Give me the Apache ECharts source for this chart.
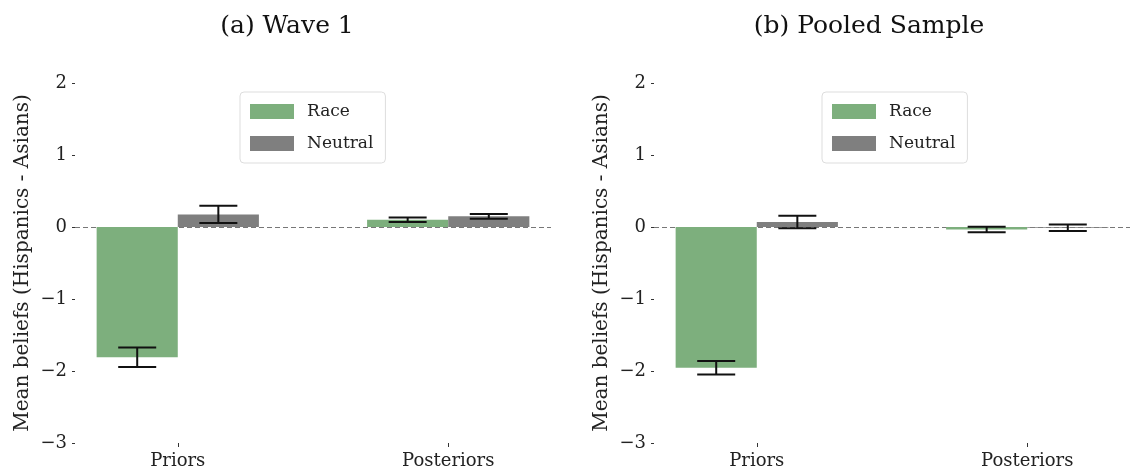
<!DOCTYPE html>
<html>
<head>
<meta charset="utf-8">
<script src="https://cdn.jsdelivr.net/npm/echarts@6/dist/echarts.min.js"></script>
<style>html,body{margin:0;padding:0;background:#fff}#c{width:1130px;height:474px}</style>
</head>
<body>
<div id="c"></div>
<script>
const categories = ['Priors', 'Posteriors'];
const panelTitles = ['(a) Wave 1', '(b) Pooled Sample'];
const seriesNames = ['Race', 'Neutral'];
const yTicks = [-3, -2, -1, 0, 1, 2];

const wave1Race = [-1.81, 0.10];
const wave1RaceErr = [0.135, 0.031];
const wave1Neutral = [0.175, 0.148];
const wave1NeutralErr = [0.12, 0.033];

const pooledRace = [-1.955, -0.035];
const pooledRaceErr = [0.093, 0.038];
const pooledNeutral = [0.07, -0.01];
const pooledNeutralErr = [0.086, 0.045];

const FONT = 'DejaVu Serif';
const colors = {Race: '#7daf7d', Neutral: '#7f7f7f'};

function makeData(vals, errs) { return categories.map((c, i) => [i, vals[i], errs[i]]); }

function renderer(off) {
  return function (params, api) {
    const x = api.value(0), y = api.value(1), e = api.value(2);
    const p0 = api.coord([x + off - 0.15, Math.max(y, 0)]);
    const p1 = api.coord([x + off + 0.15, Math.min(y, 0)]);
    const cx = api.coord([x + off, 0])[0];
    const top = api.coord([x + off, y + e])[1];
    const bot = api.coord([x + off, y - e])[1];
    const hw = 19;
    const ls = {stroke: '#111', lineWidth: 2};
    return {
      type: 'group',
      children: [
        {type: 'rect', shape: {x: p0[0], y: p0[1], width: p1[0] - p0[0], height: Math.max(p1[1] - p0[1], 0.5)}, style: {fill: api.visual('color')}},
        {type: 'line', shape: {x1: cx, y1: top, x2: cx, y2: bot}, style: ls, z2: 5},
        {type: 'line', shape: {x1: cx - hw, y1: top, x2: cx + hw, y2: top}, style: ls, z2: 5},
        {type: 'line', shape: {x1: cx - hw, y1: bot, x2: cx + hw, y2: bot}, style: ls, z2: 5}
      ]
    };
  };
}

const grids = [
  {left: 75, width: 476, top: 83, height: 360},
  {left: 654, width: 477, top: 83, height: 360}
];

const xAxes = grids.map((g, i) => ({
  type: 'value', gridIndex: i, min: -0.38, max: 1.38, position: 'bottom',
  axisLine: {show: false, onZero: false}, splitLine: {show: false},
  axisTick: {show: true, customValues: [0, 1], length: 4, lineStyle: {color: '#333'}},
  axisLabel: {customValues: [0, 1], formatter: v => categories[Math.round(v)], fontFamily: FONT, fontSize: 18, color: '#222', margin: 9}
}));

const yAxes = grids.map((g, i) => ({
  type: 'value', gridIndex: i, min: yTicks[0], max: yTicks[yTicks.length - 1], interval: 1, position: 'left',
  axisLine: {show: false, onZero: false}, splitLine: {show: false},
  axisTick: {show: true, length: 3, lineStyle: {color: '#333'}},
  axisLabel: {formatter: v => String(v).replace('-', '\u2212'), fontFamily: FONT, fontSize: 18, color: '#222', margin: 8},
  name: 'Mean beliefs (Hispanics - Asians)', nameLocation: 'middle', nameRotate: 90, nameGap: 42,
  nameTextStyle: {fontFamily: FONT, fontSize: 20, color: '#222'}
}));

const panels = [
  [wave1Race, wave1RaceErr, wave1Neutral, wave1NeutralErr],
  [pooledRace, pooledRaceErr, pooledNeutral, pooledNeutralErr]
];

const series = [];
panels.forEach((p, i) => {
  series.push({
    type: 'custom', name: 'Race', xAxisIndex: i, yAxisIndex: i,
    itemStyle: {color: colors.Race}, renderItem: renderer(-0.15),
    data: makeData(p[0], p[1]), z: 2,
    markLine: {silent: true, symbol: 'none', label: {show: false},
      lineStyle: {type: [5, 3], color: '#777', width: 1}, data: [{yAxis: 0}], z: 1}
  });
  series.push({
    type: 'custom', name: 'Neutral', xAxisIndex: i, yAxisIndex: i,
    itemStyle: {color: colors.Neutral}, renderItem: renderer(0.15),
    data: makeData(p[2], p[3]), z: 2
  });
});

const legendCommon = {
  data: seriesNames, orient: 'vertical', icon: 'rect', itemWidth: 44, itemHeight: 15, itemGap: 15,
  textStyle: {fontFamily: FONT, fontSize: 17, color: '#222', padding: [0, 0, 0, 8]},
  borderColor: '#ddd', borderWidth: 1, borderRadius: 4, padding: [11, 12, 11, 10], backgroundColor: '#fff'
};

const chart = echarts.init(document.getElementById('c'), null, {renderer: 'canvas'});
chart.setOption({
  animation: false,
  color: [colors.Race, colors.Neutral],
  title: [
    {text: panelTitles[0], left: 282, top: 9, textAlign: 'center', textStyle: {fontFamily: FONT, fontSize: 25, fontWeight: 'normal', color: '#111'}},
    {text: panelTitles[1], left: 864, top: 9, textAlign: 'center', textStyle: {fontFamily: FONT, fontSize: 25, fontWeight: 'normal', color: '#111'}}
  ],
  legend: [
    Object.assign({left: 240, top: 92}, legendCommon),
    Object.assign({left: 822, top: 92}, legendCommon)
  ],
  grid: grids,
  xAxis: xAxes,
  yAxis: yAxes,
  series: series
});
</script>
</body>
</html>
